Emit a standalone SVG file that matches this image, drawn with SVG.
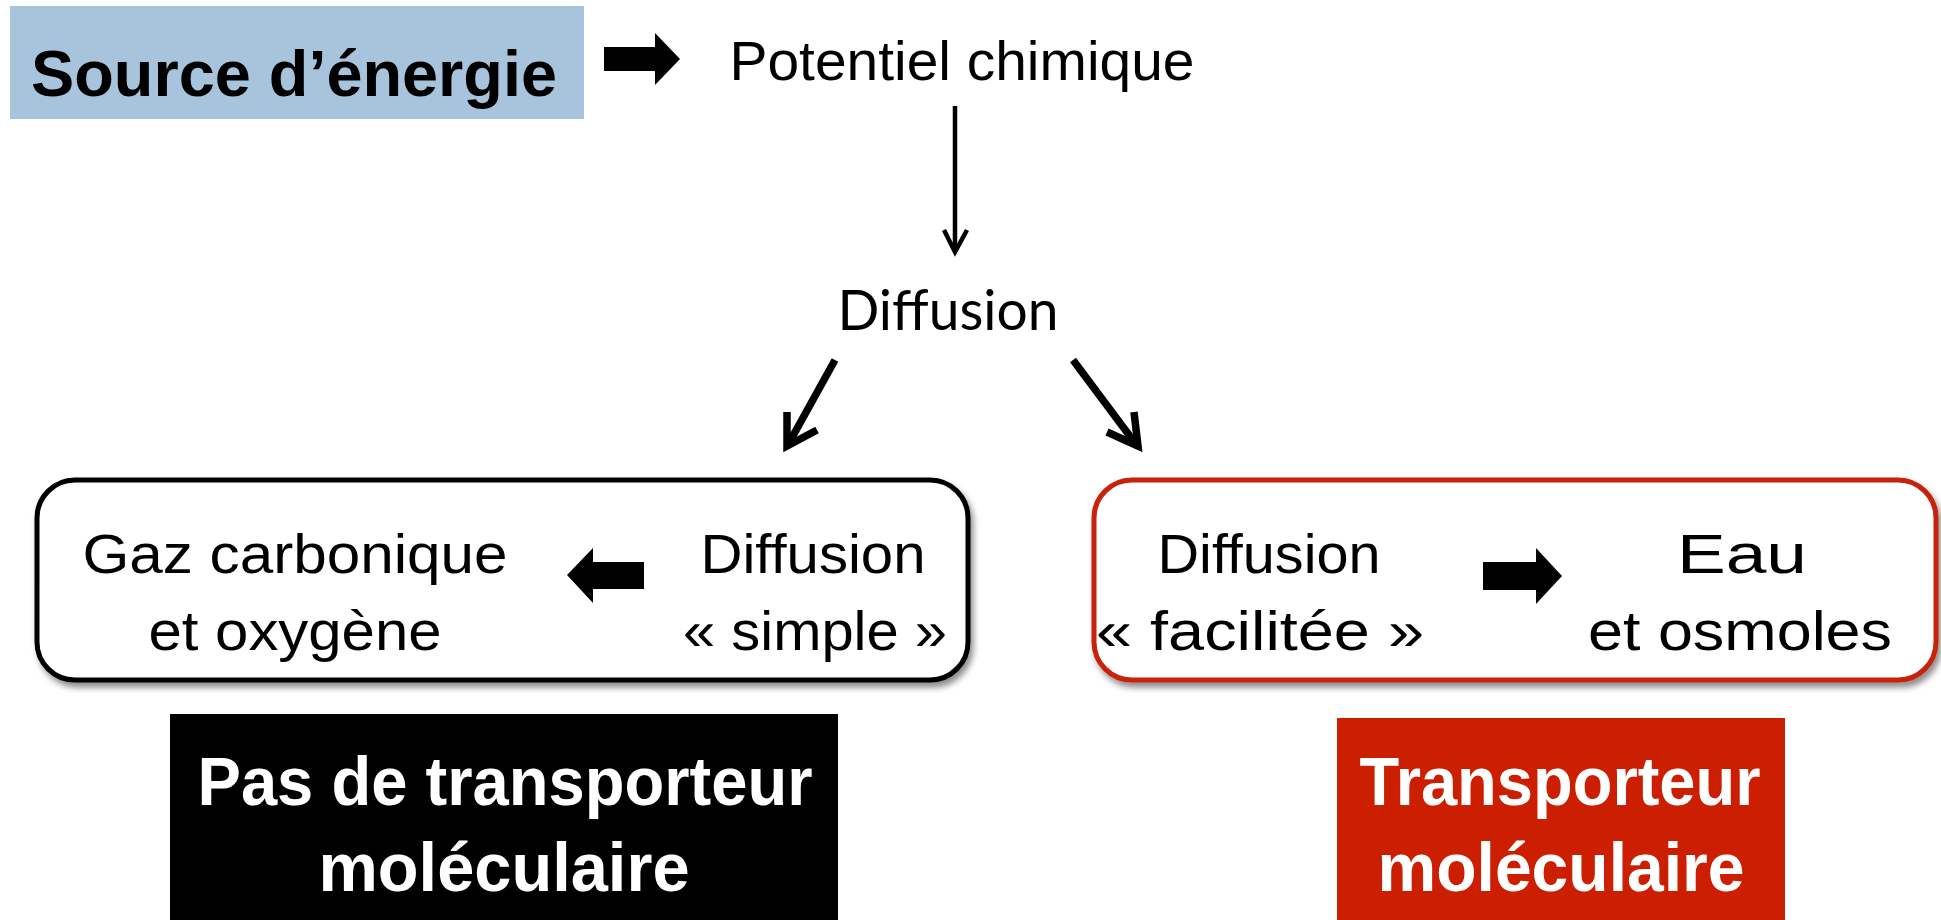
<svg xmlns="http://www.w3.org/2000/svg" width="1941" height="920" viewBox="0 0 1941 920">
<defs>
<filter id="sh" x="-5%" y="-10%" width="110%" height="125%">
<feDropShadow dx="3" dy="5" stdDeviation="3" flood-color="#000" flood-opacity="0.45"/>
</filter>
<style>
.t{font-family:"Liberation Sans",Arial,sans-serif;font-size:55px;fill:#000;text-anchor:middle}
.b{font-family:"Liberation Sans",Arial,sans-serif;font-weight:bold;text-anchor:middle}
.h{font-family:Lato,"Open Sans",sans-serif;font-size:57px;fill:#000;text-anchor:middle}
.thin{fill:none;stroke:#000;stroke-width:4.5;stroke-linejoin:miter}
.thick{fill:none;stroke:#000;stroke-width:7.5;stroke-linejoin:miter}
.blk{fill:#000}
</style>
</defs>
<rect width="1941" height="920" fill="#fff"/>

<g id="source">
<rect x="10" y="6" width="574" height="113" fill="#A7C4DC"/>
<text class="b" x="294" y="96" font-size="64" textLength="526" lengthAdjust="spacingAndGlyphs">Source d’énergie</text>
</g>

<g id="potentiel">
<text class="t" x="962" y="80" textLength="465" lengthAdjust="spacingAndGlyphs">Potentiel chimique</text>
</g>

<g id="diffusion">
<text class="h" x="948" y="330" textLength="221" lengthAdjust="spacingAndGlyphs">Diffusion</text>
</g>

<g id="simple">
<rect x="37" y="480" width="931" height="200" rx="38" ry="38" fill="#fff" stroke="#000" stroke-width="5" filter="url(#sh)"/>
<text class="t" x="295" y="573" textLength="425" lengthAdjust="spacingAndGlyphs">Gaz carbonique</text>
<text class="t" x="295" y="650" textLength="293" lengthAdjust="spacingAndGlyphs">et oxygène</text>
<text class="t" x="813" y="573" textLength="225" lengthAdjust="spacingAndGlyphs">Diffusion</text>
<text class="t" x="815" y="650" textLength="264" lengthAdjust="spacingAndGlyphs">« simple »</text>
</g>

<g id="facilitee">
<rect x="1094" y="480" width="842" height="200" rx="38" ry="38" fill="#fff" stroke="#C8200A" stroke-width="5" filter="url(#sh)"/>
<text class="t" x="1269" y="573" textLength="223" lengthAdjust="spacingAndGlyphs">Diffusion</text>
<text class="t" x="1260" y="650" textLength="328" lengthAdjust="spacingAndGlyphs">« facilitée »</text>
<text class="t" x="1742" y="573" textLength="130" lengthAdjust="spacingAndGlyphs">Eau</text>
<text class="t" x="1740" y="650" textLength="304" lengthAdjust="spacingAndGlyphs">et osmoles</text>
</g>

<g id="pas-transporteur">
<rect x="170" y="714" width="668" height="206" fill="#000"/>
<text class="b" x="505" y="805" font-size="68" fill="#fff" textLength="615" lengthAdjust="spacingAndGlyphs">Pas de transporteur</text>
<text class="b" x="504" y="891" font-size="68" fill="#fff" textLength="371" lengthAdjust="spacingAndGlyphs">moléculaire</text>
</g>

<g id="transporteur">
<rect x="1337" y="718" width="448" height="202" fill="#CC1E00"/>
<text class="b" x="1560" y="805" font-size="68" fill="#fff" textLength="401" lengthAdjust="spacingAndGlyphs">Transporteur</text>
<text class="b" x="1561" y="891" font-size="68" fill="#fff" textLength="367" lengthAdjust="spacingAndGlyphs">moléculaire</text>
</g>

<g id="connectors">
<polygon class="blk" points="604,47 655,47 655,33 680,59 655,85 655,71 604,71"/>
<line class="thin" x1="955" y1="106" x2="955" y2="250"/>
<polyline class="thin" points="944,230 955,252 967,230"/>
<line class="thick" x1="835" y1="360" x2="789" y2="443"/>
<polyline class="thick" points="787,412 787,446 817,430"/>
<line class="thick" x1="1073" y1="360" x2="1135" y2="443"/>
<polyline class="thick" points="1134,412 1138,446 1107,432"/>
<polygon class="blk" points="644,562 593,562 593,548 567,575 593,603 593,589 644,589"/>
<polygon class="blk" points="1483,562 1536,562 1536,548 1562,576 1536,604 1536,590 1483,590"/>
</g>
</svg>
